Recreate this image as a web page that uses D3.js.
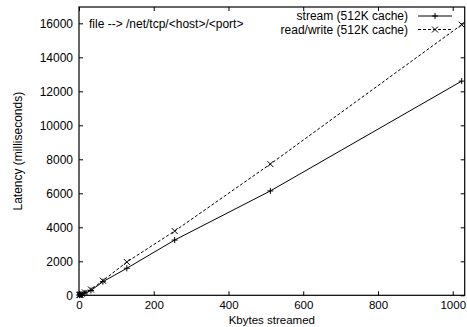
<!DOCTYPE html>
<html><head><meta charset="utf-8">
<script src="https://cdn.jsdelivr.net/npm/d3@7"></script>
<style>body{margin:0;background:#fff}text{font-family:"Liberation Sans",Arial,sans-serif;font-size:12px;fill:#000}</style>
</head><body><svg id="c" width="467" height="327"></svg>
<script>
const kbytes = [1, 2, 4, 8, 16, 32, 64, 128, 256, 512, 1024];
const streamLatency = [10, 20, 40, 75, 140, 280, 800, 1590, 3250, 6140, 12600];
const rwLatency = [12, 25, 45, 85, 165, 340, 860, 1960, 3780, 7720, 15920];
const xTicks = [0, 200, 400, 600, 800, 1000];
const yTicks = [0, 2000, 4000, 6000, 8000, 10000, 12000, 14000, 16000];
const seriesNames = ["stream (512K cache)", "read/write (512K cache)"];

const svg = d3.select("#c");
const L = 79, R = 464.7, T = 7, B = 295.3;
const x = d3.scaleLinear().domain([0, 1032]).range([L, R]);
const y = d3.scaleLinear().domain([0, 16960]).range([B, T]);
const tl = 4;
const ff = "Liberation Sans, Arial, sans-serif";

const ya = svg.append("g").attr("transform", `translate(${L},0)`)
  .call(d3.axisLeft(y).tickValues(yTicks).tickSizeInner(-tl).tickSizeOuter(0).tickPadding(6).tickFormat(d3.format("d")));
ya.select(".domain").remove();
ya.selectAll("text").style("font-size","12px").style("font-family",ff);
const yr = svg.append("g").attr("transform", `translate(${R},0)`)
  .call(d3.axisRight(y).tickValues(yTicks).tickSizeInner(-tl).tickSizeOuter(0).tickFormat(""));
yr.select(".domain").remove();
const xa = svg.append("g").attr("transform", `translate(0,${B})`)
  .call(d3.axisBottom(x).tickValues(xTicks).tickSizeInner(-tl).tickSizeOuter(0).tickPadding(6).tickFormat(d3.format("d")));
xa.select(".domain").remove();
xa.selectAll("text").style("font-size","11.5px").style("font-family",ff);
const xt = svg.append("g").attr("transform", `translate(0,${T})`)
  .call(d3.axisTop(x).tickValues(xTicks).tickSizeInner(-tl).tickSizeOuter(0).tickFormat(""));
xt.select(".domain").remove();
svg.selectAll(".tick line").attr("stroke","#000");

svg.append("rect").attr("x",L).attr("y",T).attr("width",R-L).attr("height",B-T)
  .attr("fill","none").attr("stroke","#000").attr("stroke-width",1.2);

svg.append("text").attr("x",(L+R)/2).attr("y",324).attr("text-anchor","middle").style("font-size","11.5px").text("Kbytes streamed");
svg.append("text").attr("transform",`translate(22,${(T+B)/2}) rotate(-90)`).attr("text-anchor","middle").text("Latency (milliseconds)");
svg.append("text").attr("x",89).attr("y",28).text("file --> /net/tcp/<host>/<port>");

const line = d3.line().x((d,i)=>x(kbytes[i])).y(d=>y(d));
const plus = (g, px, py, s) => g.append("path").attr("d",`M${px-s},${py}H${px+s}M${px},${py-s}V${py+s}`).attr("stroke","#000").attr("fill","none");
const cross = (g, px, py, s) => g.append("path").attr("d",`M${px-s},${py-s}L${px+s},${py+s}M${px-s},${py+s}L${px+s},${py-s}`).attr("stroke","#000").attr("fill","none");

const series = [
  {vals: streamLatency, dash: null, mark: plus},
  {vals: rwLatency, dash: "3,2", mark: cross}
];
const g = svg.append("g");
series.forEach((s, k) => {
  g.append("path").attr("d", line(s.vals)).attr("fill","none").attr("stroke","#000").attr("stroke-width",1)
    .attr("stroke-dasharray", s.dash);
  s.vals.forEach((v,i) => s.mark(g, x(kbytes[i]), y(v), 3));
  const ly = 16 + k*13.5;
  svg.append("text").attr("x",408).attr("y",ly+4).attr("text-anchor","end").text(seriesNames[k]);
  svg.append("line").attr("x1",418).attr("x2",452).attr("y1",ly).attr("y2",ly).attr("stroke","#000").attr("stroke-dasharray", s.dash);
  s.mark(svg, 435, ly, 3);
});
</script></body></html>
